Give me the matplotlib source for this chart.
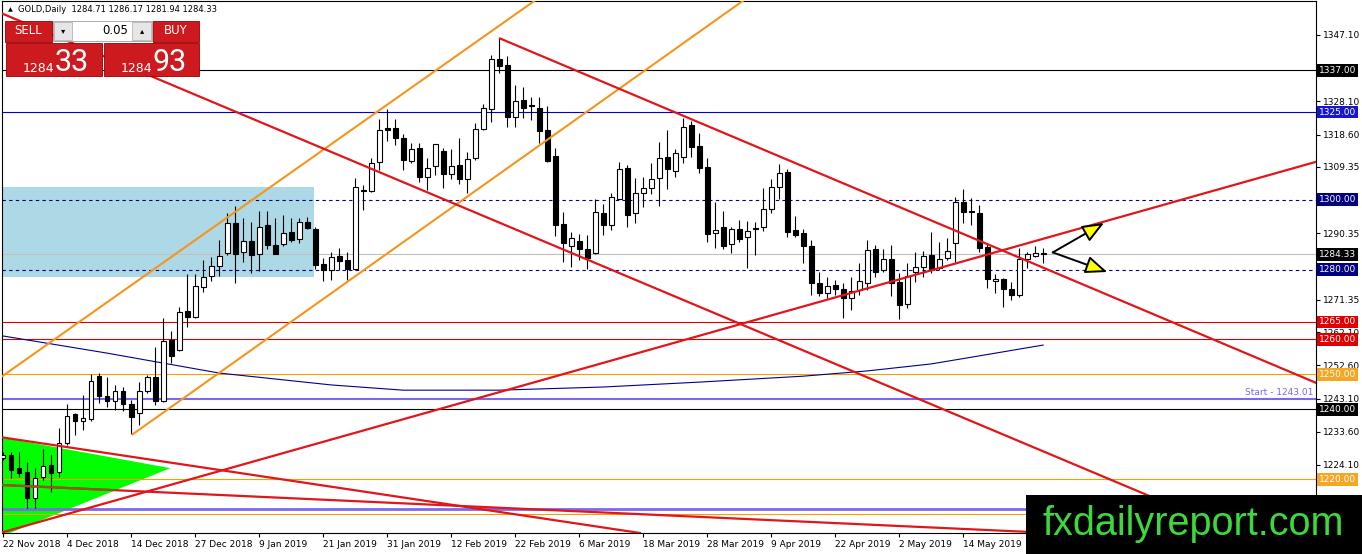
import matplotlib
matplotlib.use("Agg")
import matplotlib.pyplot as plt
import matplotlib.transforms as mtransforms
from matplotlib.patches import Rectangle, Polygon
import numpy as np

# daily OHLC, bar index 0 = 22 Nov 2018
opens = [1226.1, 1227.0, 1223.2, 1222.1, 1214.7, 1220.7, 1224.1, 1222.1, 1230.4, 1238.7,
         1236.7, 1237.3, 1249.6, 1243.8, 1242.4, 1245.3, 1241.6, 1239.0, 1245.3, 1249.3,
         1242.4, 1259.9, 1257.0, 1268.2, 1266.4, 1275.0, 1278.2, 1281.0, 1284.7, 1293.3,
         1285.0, 1288.2, 1284.5, 1292.7, 1287.0, 1287.3, 1290.7, 1288.7, 1293.6, 1291.6,
         1281.6, 1279.9, 1283.9, 1282.7, 1280.2, 1302.5, 1302.5, 1310.8, 1320.5, 1320.5,
         1317.6, 1311.1, 1314.8, 1306.5, 1309.6, 1313.9, 1307.3, 1309.9, 1305.9, 1311.9,
         1320.2, 1325.9, 1340.2, 1338.5, 1323.6, 1328.5, 1327.1, 1326.2, 1319.9, 1312.5,
         1293.0, 1286.7, 1288.2, 1285.9, 1284.7, 1296.2, 1292.7, 1300.2, 1309.1, 1296.2,
         1301.9, 1303.3, 1306.2, 1312.2, 1308.2, 1312.2, 1321.3, 1315.4, 1309.3, 1290.5,
         1292.2, 1287.3, 1291.6, 1289.3, 1291.6, 1292.2, 1297.3, 1303.6, 1307.9, 1291.3,
         1290.5, 1286.7, 1276.2, 1273.3, 1275.6, 1274.4, 1271.9, 1274.2, 1276.2, 1285.9,
         1279.9, 1283.0, 1276.5, 1270.2, 1279.3, 1280.7, 1284.2, 1280.5, 1283.3, 1287.6,
         1299.3, 1296.6, 1296.2, 1286.5, 1276.7, 1277.3, 1274.4, 1272.7, 1283.0, 1283.9,
         1284.71]
highs = [1227.8, 1227.8, 1227.8, 1225.0, 1223.2, 1228.7, 1227.0, 1234.7, 1241.6, 1239.0,
         1244.1, 1250.1, 1250.4, 1249.3, 1247.0, 1246.4, 1242.7, 1247.8, 1249.8, 1257.9,
         1266.2, 1262.4, 1269.3, 1278.7, 1278.7, 1282.7, 1283.6, 1288.5, 1296.2, 1298.2,
         1294.8, 1293.6, 1296.7, 1296.7, 1294.8, 1295.6, 1294.8, 1294.8, 1295.0, 1292.2,
         1283.3, 1285.0, 1286.2, 1285.0, 1306.2, 1304.2, 1311.9, 1323.1, 1325.9, 1323.1,
         1318.8, 1316.2, 1316.2, 1311.9, 1315.9, 1314.8, 1314.5, 1317.6, 1313.6, 1321.9,
         1327.4, 1341.4, 1346.2, 1341.1, 1332.8, 1332.2, 1329.4, 1329.4, 1326.8, 1314.8,
         1296.5, 1290.7, 1290.2, 1289.9, 1300.2, 1298.8, 1301.9, 1310.8, 1309.9, 1306.2,
         1306.5, 1310.5, 1316.5, 1319.9, 1314.5, 1323.4, 1322.5, 1319.1, 1311.9, 1299.3,
         1296.7, 1292.2, 1294.2, 1293.9, 1293.6, 1303.3, 1305.9, 1310.2, 1308.8, 1295.3,
         1291.6, 1288.5, 1279.3, 1277.9, 1277.0, 1276.2, 1277.9, 1281.9, 1288.5, 1287.0,
         1285.9, 1287.0, 1279.0, 1281.9, 1285.0, 1285.3, 1290.7, 1287.9, 1289.0, 1300.8,
         1303.0, 1300.5, 1298.5, 1287.6, 1278.7, 1277.6, 1276.5, 1286.2, 1285.0, 1286.7,
         1286.17]
lows = [1225.5, 1220.4, 1220.7, 1211.8, 1211.8, 1219.8, 1216.4, 1220.7, 1229.8, 1232.7,
        1234.1, 1236.7, 1241.9, 1240.7, 1239.8, 1239.6, 1233.0, 1235.5, 1244.7, 1241.3,
        1242.1, 1253.3, 1256.7, 1263.6, 1266.0, 1273.6, 1276.7, 1278.2, 1284.2, 1276.2,
        1282.2, 1279.0, 1279.6, 1285.9, 1284.3, 1286.7, 1287.9, 1287.6, 1291.6, 1280.2,
        1276.7, 1277.0, 1279.9, 1277.0, 1279.9, 1297.0, 1302.2, 1308.5, 1316.8, 1315.6,
        1308.5, 1310.5, 1305.1, 1302.8, 1307.1, 1303.3, 1305.9, 1304.5, 1301.9, 1311.4,
        1319.9, 1322.2, 1336.2, 1320.8, 1320.8, 1323.4, 1322.8, 1316.2, 1310.8, 1289.6,
        1282.2, 1280.7, 1282.7, 1280.2, 1284.5, 1289.9, 1291.3, 1300.2, 1292.2, 1293.3,
        1297.9, 1301.6, 1298.2, 1303.0, 1306.5, 1310.5, 1312.2, 1307.6, 1287.9, 1286.2,
        1285.9, 1284.7, 1287.9, 1280.5, 1284.2, 1291.0, 1296.2, 1300.2, 1289.3, 1289.3,
        1281.9, 1272.7, 1272.4, 1271.9, 1272.7, 1266.2, 1268.4, 1272.7, 1274.2, 1277.9,
        1279.3, 1272.4, 1265.9, 1269.0, 1276.5, 1277.9, 1279.0, 1279.9, 1282.7, 1282.2,
        1293.3, 1292.7, 1285.0, 1274.7, 1273.3, 1269.3, 1271.3, 1272.2, 1280.5, 1283.6,
        1281.94]
closes = [1227.0, 1222.7, 1221.8, 1214.7, 1220.4, 1223.8, 1221.8, 1230.4, 1238.1, 1236.7,
          1237.6, 1248.1, 1243.8, 1242.4, 1245.3, 1241.6, 1237.9, 1245.3, 1249.3, 1242.4,
          1259.6, 1255.3, 1267.9, 1266.4, 1275.3, 1277.9, 1281.0, 1283.9, 1293.3, 1284.5,
          1288.2, 1284.2, 1292.2, 1287.0, 1284.5, 1290.5, 1288.5, 1293.6, 1291.9, 1281.3,
          1279.9, 1283.6, 1282.5, 1280.2, 1303.6, 1302.8, 1310.5, 1319.9, 1319.9, 1317.6,
          1311.4, 1314.5, 1306.5, 1309.1, 1315.9, 1307.3, 1309.6, 1305.9, 1311.6, 1320.2,
          1326.2, 1340.2, 1338.2, 1323.6, 1328.2, 1326.2, 1326.8, 1319.6, 1311.1, 1292.7,
          1287.6, 1289.0, 1285.9, 1283.3, 1296.5, 1292.7, 1300.8, 1308.8, 1295.6, 1301.9,
          1303.3, 1305.9, 1311.9, 1308.8, 1313.3, 1320.8, 1315.1, 1309.1, 1290.2, 1291.3,
          1286.7, 1291.6, 1288.7, 1291.0, 1291.5, 1297.3, 1303.6, 1307.6, 1290.7, 1289.9,
          1286.7, 1276.2, 1273.3, 1275.3, 1274.4, 1271.9, 1273.9, 1276.7, 1285.6, 1279.3,
          1283.0, 1276.2, 1269.9, 1278.2, 1280.7, 1283.9, 1279.9, 1283.0, 1285.3, 1299.3,
          1296.5, 1296.4, 1286.2, 1277.3, 1277.3, 1274.4, 1272.7, 1283.0, 1284.5, 1284.7,
          1284.33]

date_pos = [0, 8, 16, 24, 32, 40, 48, 56, 64, 72, 80, 88, 96, 104, 112, 120]
date_labels = ["22 Nov 2018", "4 Dec 2018", "14 Dec 2018", "27 Dec 2018", "9 Jan 2019",
               "21 Jan 2019", "31 Jan 2019", "12 Feb 2019", "22 Feb 2019", "6 Mar 2019",
               "18 Mar 2019", "28 Mar 2019", "9 Apr 2019", "22 Apr 2019", "2 May 2019",
               "14 May 2019"]
price_ticks = [1347.10, 1328.10, 1318.60, 1309.35, 1290.35, 1271.35, 1262.10, 1252.60,
               1243.10, 1233.60, 1224.10, 1214.60]

# moving average, read at a few bars
ma_bars = [0, 13, 27, 41, 50, 62, 75, 87, 100, 108, 116, 122, 130]
ma_vals = [1261.0, 1256.1, 1250.4, 1247.0, 1245.5, 1245.5, 1246.4, 1247.8, 1249.5,
           1251.0, 1253.0, 1255.3, 1258.4]

# horizontal levels: price, line colour, style, width, label box colour
levels = [
    (1337.00, "black", "-", 0.8, "black"),
    (1325.00, "#0000C8", "-", 0.8, "#1515D8"),
    (1300.00, "#000080", (0, (3, 3)), 0.8, "#000080"),
    (1284.33, "#C0C0C0", "-", 0.8, "black"),
    (1280.00, "#000080", (0, (3, 3)), 0.8, "#000080"),
    (1265.00, "#DD0000", "-", 0.8, "#E00000"),
    (1260.00, "#DD0000", "-", 0.8, "#E00000"),
    (1250.00, "#F5A000", "-", 0.8, "#F5A623"),
    (1240.00, "black", "-", 0.8, "black"),
    (1220.00, "#F5A000", "-", 0.8, "#F5A623"),
]
start_level = 1243.01
low_purple = 1211.5
low_orange = 1210.1

# trend lines: (bar, price) anchors, ray flag
orange_lines = [((-0.4, 1249.0), (61.25, 1348.5), False),
                ((16.1, 1232.7), (75.9, 1329.9), True)]
red_lines = [((-0.4, 1353.5), (143.0, 1215.5), False),
             ((62.0, 1346.2), (164.1, 1247.6), True),
             ((0.0, 1204.9), (164.1, 1310.8), False),
             ((-0.4, 1232.1), (64.6, 1209.8), False),
             ((-0.4, 1218.4), (125.9, 1205.2), False)]
triangle = [(-0.4, 1232.1), (20.9, 1223.2), (-0.4, 1203.5)]
zone = (0.0, 38.9, 1277.9, 1303.6)
arrow_origin = (131.2, 1284.9)
arrow_tips = [(137.6, 1293.3), (138.0, 1279.3)]

W, H = 1362, 554
fig = plt.figure(figsize=(W / 100, H / 100), dpi=100)
ax = fig.add_axes([2 / W, 21 / H, 1314 / W, 532 / H])
ax.set_xlim(-0.125, 164.1)
ax.set_ylim(1204.65, 1356.8)
fs = 6.5

# zone rectangle and green triangle
ax.add_patch(Rectangle((zone[0] - 0.4, zone[2]), zone[1] - zone[0] + 0.4, zone[3] - zone[2],
                       facecolor="#ADD8E6", edgecolor="none", zorder=1))
tri = Polygon(triangle, closed=True, facecolor="#00FF00", edgecolor="none", zorder=1.5)
ax.add_patch(tri)

for lev, col, ls, lw, _ in levels:
    ax.axhline(lev, color=col, ls=ls, lw=lw, zorder=2)
ax.axhline(start_level, color="#7B68EE", lw=1.5, zorder=2)
ax.axhline(low_purple, color="#7B68EE", lw=2.0, zorder=2)
ax.axhline(low_orange, color="#F5A000", lw=0.8, zorder=2)
ax.text(0.998, start_level + 0.6, "Start - 1243.01", color="#7B68EE", fontsize=fs,
        ha="right", va="bottom", transform=mtransforms.blended_transform_factory(ax.transAxes, ax.transData))

ax.plot(ma_bars, ma_vals, color="#00008B", lw=0.8, zorder=2.5)


def draw_line(p1, p2, ray, color, lw):
    if ray:
        slope = (p2[1] - p1[1]) / (p2[0] - p1[0])
        x_end = 200
        return ax.plot([p1[0], x_end], [p1[1], p1[1] + slope * (x_end - p1[0])],
                       color=color, lw=lw, zorder=6, solid_capstyle="butt")[0]
    return ax.axline(p1, p2, color=color, lw=lw, zorder=6)


for p1, p2, ray in orange_lines:
    draw_line(p1, p2, ray, "#F7941D", 1.5)
for p1, p2, ray in red_lines:
    draw_line(p1, p2, ray, "#E0161B", 1.6)
# brownish part of the lowest red line inside the green triangle
brown = ax.axline(red_lines[4][0], red_lines[4][1], color="#8B5A1A", lw=1.6, zorder=6.1)
brown.set_clip_path(tri)

# candles
x = np.arange(len(opens))
o = np.array(opens)
c = np.array(closes)
ax.vlines(x, lows, highs, color="black", lw=0.8, zorder=5)
bottoms = np.minimum(o, c)
heights = np.maximum(np.abs(c - o), 0.25)
fills = ["white" if cc >= oo else "black" for oo, cc in zip(o, c)]
ax.bar(x, heights, bottom=bottoms, width=0.62, color=fills, edgecolor="black", lw=0.8, zorder=5.5)

for tip in arrow_tips:
    ax.annotate("", xy=tip, xytext=arrow_origin, zorder=7,
                arrowprops=dict(arrowstyle="-|>,head_length=1.1,head_width=0.45",
                                fc="yellow", ec="black", lw=1.4, mutation_scale=12,
                                shrinkA=0, shrinkB=0))

# axes styling
for s in ax.spines.values():
    s.set_linewidth(0.8)
ax.yaxis.tick_right()
ax.set_yticks(price_ticks)
ax.set_yticklabels(["%.2f" % t for t in price_ticks])
ax.set_xticks(date_pos)
ax.set_xticklabels(date_labels, ha="left")
ax.tick_params(axis="both", direction="out", length=3, width=0.8, labelsize=fs, pad=2)

tr = mtransforms.blended_transform_factory(ax.transAxes, ax.transData)
for lev, _, _, _, box in levels:
    ax.text(1.0 + 3 / 1314, lev, "%.2f" % lev, transform=tr, color="white", fontsize=fs,
            ha="left", va="center", zorder=8,
            bbox=dict(boxstyle="square,pad=0.2", fc=box, ec="none"))

# overlay in pixel coordinates: trade panel, header, watermark
ov = fig.add_axes([0, 0, 1, 1], zorder=10)
ov.set_xlim(0, W)
ov.set_ylim(H, 0)
ov.axis("off")
ov.patch.set_alpha(0)

ov.text(8, 10, "\u25B2", fontsize=4.5, ha="left", va="center")
ov.text(18, 10, "GOLD,Daily  1284.71 1286.17 1281.94 1284.33", fontsize=6, ha="left", va="center")

red = "#CC1A1E"
ov.add_patch(Rectangle((5, 21), 47, 21, fc=red, ec="#9A0000", lw=0.6))
ov.add_patch(Rectangle((153, 21), 46, 21, fc=red, ec="#9A0000", lw=0.6))
ov.add_patch(Rectangle((53, 21), 99, 20, fc="white", ec="#A0A0A0", lw=0.6))
ov.add_patch(Rectangle((54, 22), 18, 18, fc="#E6E6E6", ec="#B5B5B5", lw=0.6))
ov.add_patch(Rectangle((132, 22), 19, 18, fc="#E6E6E6", ec="#B5B5B5", lw=0.6))
ov.text(63, 31, "\u25BE", fontsize=6, ha="center", va="center")
ov.text(142, 31, "\u25B4", fontsize=6, ha="center", va="center")
ov.text(128, 31, "0.05", fontsize=8.5, ha="right", va="center")
ov.text(28.5, 31, "SELL", fontsize=8.5, color="white", ha="center", va="center")
ov.text(176, 31, "BUY", fontsize=8.5, color="white", ha="center", va="center")
ov.add_patch(Rectangle((6, 43), 96, 33, fc=red, ec="#9A0000", lw=0.6))
ov.add_patch(Rectangle((104, 43), 95, 33, fc=red, ec="#9A0000", lw=0.6))
ov.text(23, 72, "1284", fontsize=9, color="white", ha="left", va="baseline")
ov.text(55, 71, "33", fontsize=22, color="white", ha="left", va="baseline", family="Roboto")
ov.text(121, 72, "1284", fontsize=9, color="white", ha="left", va="baseline")
ov.text(153, 71, "93", fontsize=22, color="white", ha="left", va="baseline", family="Roboto")

ov.add_patch(Rectangle((1026, 495), W - 1026, H - 495, fc="black", ec="none"))
ov.text(1193, 524, "fxdailyreport.com", fontsize=28.5, color="#3CD83C",
        family="Liberation Sans", ha="center", va="center")

fig.savefig("out.png", dpi=100)
